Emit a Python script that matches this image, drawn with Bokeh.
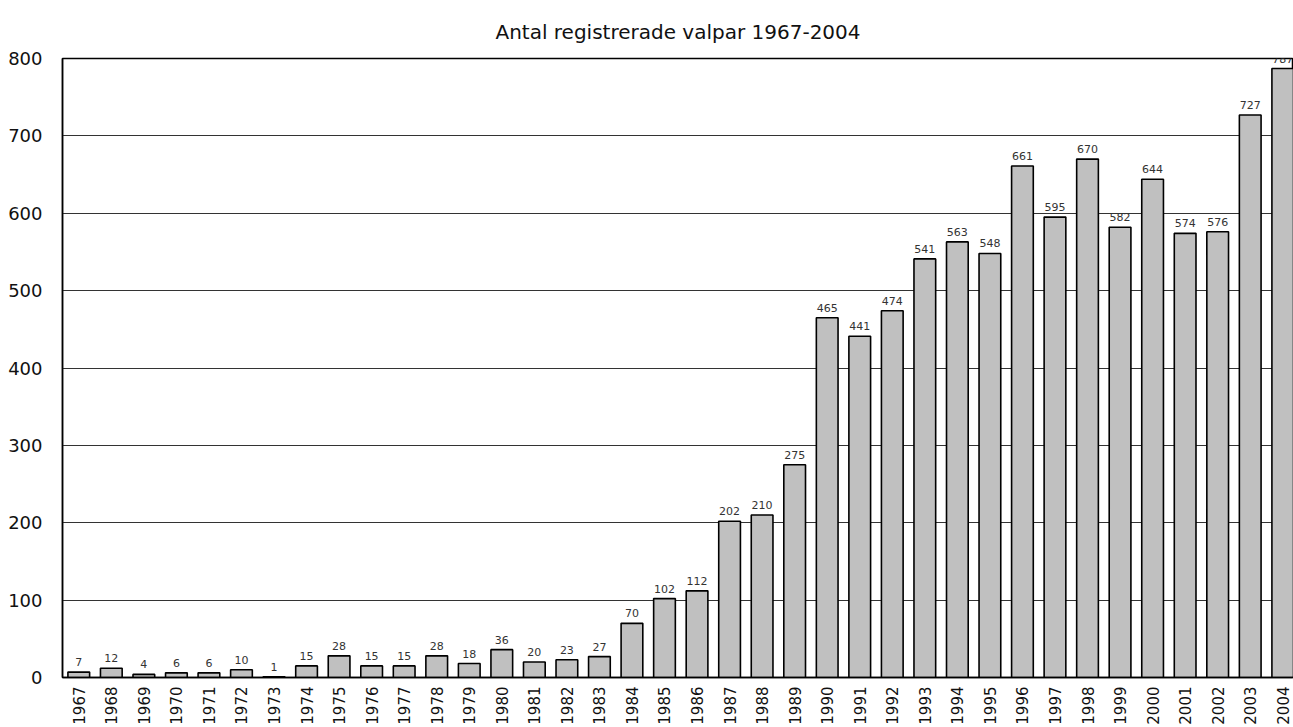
from bokeh.plotting import figure
from bokeh.models import ColumnDataSource, FixedTicker, Range1d, LabelSet
from bokeh.core.properties import value
from bokeh.embed import file_html
from bokeh.resources import INLINE
import math

years = [str(y) for y in range(1967, 2005)]
values = [7, 12, 4, 6, 6, 10, 1, 15, 28, 15, 15, 28, 18, 36, 20, 23, 27, 70, 102, 112,
          202, 210, 275, 465, 441, 474, 541, 563, 548, 661, 595, 670, 582, 644, 574, 576,
          727, 787]
title = "Antal registrerade valpar 1967-2004"

xs = list(range(len(years)))
src = ColumnDataSource(dict(x=xs, top=values, lab=[str(v) for v in values]))

FONT = "DejaVu Sans"
p = figure(width=1293, height=727, output_backend="svg", toolbar_location=None,
           x_range=Range1d(-0.5, 37.33), y_range=Range1d(0, 800),
           min_border_left=62, min_border_right=0, min_border_top=58, min_border_bottom=0)

p.title.text = title
p.title.align = "center"
p.title.text_font = FONT
p.title.text_font_size = "20px"
p.title.text_font_style = "normal"
p.title.text_color = "#111111"
p.title.standoff = 30

p.vbar(x="x", top="top", width=0.667, source=src, fill_color="#c0c0c0",
       line_color="black", line_width=1.6)

labels = LabelSet(x="x", y="top", text="lab", source=src, text_align="center",
                  text_baseline="bottom", y_offset=6, text_font_size=value("11px"),
                  text_font=value(FONT), text_color="#333333")
p.add_layout(labels)

p.xaxis.ticker = FixedTicker(ticks=xs)
p.xaxis.major_label_overrides = {i: y for i, y in enumerate(years)}
p.xaxis.major_label_orientation = math.pi / 2
p.xaxis.major_label_text_font = FONT
p.xaxis.major_label_text_font_size = "15px"
p.xaxis.major_label_text_color = "#111111"
p.xaxis.major_label_standoff = 3
p.xaxis.major_tick_line_color = None
p.xaxis.minor_tick_line_color = None
p.xaxis.axis_line_color = "black"
p.xaxis.axis_line_width = 1.5

p.yaxis.ticker = FixedTicker(ticks=list(range(0, 801, 100)))
p.yaxis.major_label_text_font = FONT
p.yaxis.major_label_text_font_size = "18px"
p.yaxis.major_label_text_color = "#111111"
p.yaxis.major_label_standoff = 14
p.yaxis.major_tick_line_color = None
p.yaxis.minor_tick_line_color = None
p.yaxis.axis_line_color = "black"
p.yaxis.axis_line_width = 1.5

p.xgrid.grid_line_color = None
p.ygrid.grid_line_color = "#333333"
p.ygrid.grid_line_width = 1
p.outline_line_color = "black"
p.outline_line_width = 1.5
p.background_fill_color = "white"
p.border_fill_color = "white"

open("out.html", "w").write(file_html(p, INLINE))
